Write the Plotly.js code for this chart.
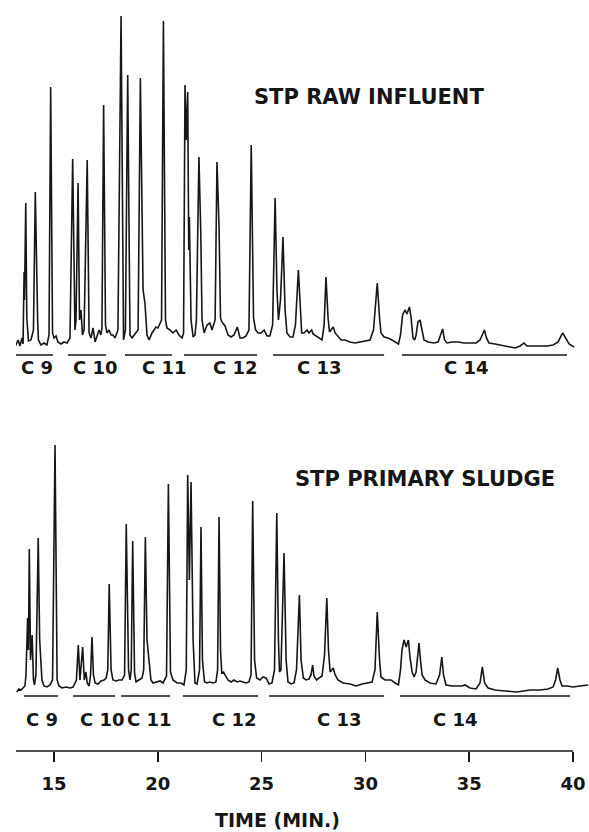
<!DOCTYPE html>
<html>
<head>
<meta charset="utf-8">
<script src="https://cdn.plot.ly/plotly-3.0.1.min.js"></script>
<style>html,body{margin:0;padding:0;background:#fff;}#chart{width:589px;height:832px;}</style>
</head>
<body>
<div id="chart"></div>
<script>
// Retention time (min) and detector response (relative units)
var influentTime = [13.12,13.27,13.36,13.46,13.51,13.56,13.58,13.64,13.69,13.72,13.77,13.89,14.01,14.10,14.17,14.21,14.25,14.37,14.52,14.66,14.76,14.84,14.93,15.00,15.10,15.19,15.34,15.48,15.63,15.77,15.90,16.01,16.06,16.16,16.23,16.30,16.37,16.45,16.60,16.69,16.78,16.88,16.98,17.07,17.17,17.26,17.31,17.39,17.48,17.55,17.65,17.75,17.84,17.94,18.08,18.23,18.35,18.44,18.55,18.66,18.76,18.90,19.05,19.16,19.29,19.38,19.48,19.58,19.72,19.82,19.91,20.01,20.11,20.18,20.27,20.37,20.44,20.59,20.73,20.88,21.02,21.17,21.24,21.31,21.37,21.44,21.49,21.52,21.60,21.70,21.79,21.86,21.98,22.07,22.13,22.23,22.37,22.51,22.61,22.68,22.76,22.85,22.95,23.02,23.09,23.24,23.38,23.53,23.67,23.83,23.96,24.10,24.25,24.39,24.50,24.61,24.71,24.83,24.97,25.12,25.26,25.40,25.53,25.65,25.74,25.81,25.91,26.03,26.13,26.22,26.37,26.51,26.63,26.77,26.87,26.93,27.04,27.19,27.28,27.41,27.48,27.62,27.77,27.91,28.01,28.10,28.20,28.27,28.34,28.45,28.54,28.68,28.83,29.02,29.26,29.50,29.74,29.98,30.22,30.39,30.57,30.68,30.75,30.90,31.09,31.28,31.43,31.59,31.69,31.79,31.91,32.00,32.12,32.20,32.29,32.37,32.44,32.53,32.63,32.73,32.82,33.02,33.30,33.50,33.62,33.72,33.81,33.93,34.17,34.46,34.75,35.04,35.33,35.52,35.62,35.73,35.83,35.95,36.24,36.63,36.97,37.21,37.45,37.64,37.78,38.07,38.41,38.75,39.04,39.28,39.40,39.50,39.64,39.81,40.05];
var influentSignal = [3,10,4,12,6,78,50,147,32,22,9,10,20,158,40,32,10,5,7,5,15,263,17,12,14,8,6,8,7,12,191,20,30,167,30,40,15,20,190,17,12,22,8,15,20,15,22,245,25,17,20,15,15,12,20,334,10,20,275,15,12,16,20,272,60,47,15,10,17,20,23,22,28,30,329,30,22,20,17,20,15,12,17,265,210,258,100,133,30,13,15,30,193,117,30,17,25,27,20,24,30,188,123,32,28,24,15,13,15,23,12,12,14,20,205,32,20,17,17,20,14,14,25,152,60,30,50,113,40,17,13,13,25,80,30,17,17,20,17,20,16,14,12,10,25,73,32,18,20,23,17,14,10,10,8,7,8,9,10,20,67,32,17,13,12,10,8,6,15,35,40,36,43,32,12,10,15,28,30,20,10,8,7,8,15,21,10,7,8,8,7,7,7,10,15,20,12,7,6,4,3,2,4,7,4,4,4,4,5,8,13,17,12,6,3];

var sludgeTime = [13.20,13.31,13.41,13.51,13.60,13.65,13.73,13.77,13.81,13.87,13.95,14.01,14.06,14.13,14.24,14.31,14.36,14.42,14.52,14.66,14.81,14.93,15.05,15.15,15.24,15.39,15.58,15.77,15.92,16.08,16.17,16.25,16.38,16.46,16.54,16.60,16.69,16.76,16.83,16.90,16.98,17.12,17.26,17.41,17.51,17.59,17.66,17.75,17.84,17.99,18.13,18.28,18.40,18.48,18.59,18.66,18.72,18.79,18.88,18.95,19.09,19.24,19.32,19.40,19.48,19.59,19.67,19.77,19.91,20.11,20.25,20.42,20.51,20.61,20.73,20.93,21.12,21.26,21.37,21.44,21.52,21.60,21.70,21.79,21.89,22.01,22.08,22.15,22.25,22.37,22.51,22.66,22.80,22.88,22.95,23.02,23.08,23.17,23.24,23.38,23.53,23.67,23.82,23.96,24.10,24.25,24.39,24.49,24.57,24.66,24.76,24.92,25.07,25.21,25.36,25.50,25.62,25.73,25.81,25.86,25.93,26.01,26.08,26.18,26.27,26.42,26.56,26.68,26.82,26.90,27.01,27.14,27.28,27.38,27.46,27.52,27.65,27.77,27.91,28.03,28.14,28.22,28.30,28.45,28.54,28.68,28.92,29.26,29.55,29.84,30.13,30.32,30.46,30.57,30.68,30.75,30.94,31.23,31.43,31.59,31.69,31.76,31.86,31.96,32.07,32.15,32.25,32.34,32.44,32.51,32.58,32.65,32.73,32.87,33.11,33.40,33.57,33.68,33.76,33.88,34.17,34.46,34.65,34.80,35.04,35.33,35.52,35.63,35.74,35.91,36.24,36.73,37.29,37.93,38.41,38.80,39.04,39.16,39.26,39.37,39.47,39.71,40.00,40.34,40.72];
var sludgeSignal = [3,6,5,7,9,20,77,45,146,35,60,15,10,20,157,55,38,15,9,8,10,15,250,15,9,7,8,7,8,15,50,15,48,15,23,12,9,20,58,20,12,11,14,15,17,25,111,25,15,14,15,15,20,171,25,15,25,154,22,13,15,17,25,158,55,35,15,12,13,14,12,19,211,23,15,12,12,10,25,220,115,213,55,12,11,25,168,35,13,12,13,12,13,25,178,45,22,23,20,15,13,15,13,14,13,12,13,20,194,35,17,15,18,17,11,12,25,182,55,23,25,95,142,35,13,11,12,25,100,35,17,15,16,20,30,19,15,17,19,40,97,45,23,27,20,15,12,11,9,11,12,13,25,83,35,18,15,15,12,10,25,45,55,48,55,37,23,18,23,35,52,35,20,15,12,11,20,38,20,10,9,9,9,10,7,6,12,28,12,7,5,4,3,5,5,6,8,15,27,15,9,9,8,9,10];

var groupNames = ["C 9","C 10","C 11","C 12","C 13","C 14"];
var influentGroupStart = [13.17,15.67,18.42,21.26,25.55,31.76];
var influentGroupEnd   = [14.95,17.51,20.68,24.78,30.90,39.71];
var influentLabelAt    = [14.18,16.98,20.30,23.72,27.77,34.85];
var sludgeGroupStart   = [13.56,15.92,18.23,21.21,25.36,31.67];
var sludgeGroupEnd     = [15.19,17.94,20.59,24.83,30.90,39.86];
var sludgeLabelAt      = [14.42,17.36,19.62,23.67,28.73,34.32];
var tickValues = [15,20,25,30,35,40];

var FONT = "DejaVu Sans, Liberation Sans, Arial, sans-serif";
var INK = "#161616";

var traces = [
  {x: influentTime, y: influentSignal, type: "scatter", mode: "lines", xaxis: "x", yaxis: "y",
   line: {color: INK, width: 1.6}, name: "STP RAW INFLUENT", hoverinfo: "x+y"},
  {x: sludgeTime, y: sludgeSignal, type: "scatter", mode: "lines", xaxis: "x", yaxis: "y2",
   line: {color: INK, width: 1.6}, name: "STP PRIMARY SLUDGE", hoverinfo: "x+y"}
];

var shapes = [];
var annotations = [];
function addGroups(starts, ends, labels, lineY, labelY) {
  for (var i = 0; i < groupNames.length; i++) {
    shapes.push({type: "line", xref: "x", yref: "paper", x0: starts[i], x1: ends[i], y0: lineY, y1: lineY,
                 line: {color: INK, width: 1.6}});
    annotations.push({text: groupNames[i], xref: "x", yref: "paper", x: labels[i], y: labelY,
                      showarrow: false, xanchor: "center", yanchor: "middle",
                      font: {family: FONT, size: 18, color: INK, weight: 700}});
  }
}
addGroups(influentGroupStart, influentGroupEnd, influentLabelAt, 0.5273, 0.510);
addGroups(sludgeGroupStart, sludgeGroupEnd, sludgeLabelAt, 0.0732, 0.0413);

// x axis baseline from the start of the record to 40 min
shapes.push({type: "line", xref: "x", yref: "paper", x0: 13.17, x1: 40, y0: 0, y1: 0,
             line: {color: INK, width: 1.6}});

annotations.push({text: "STP RAW INFLUENT", xref: "paper", yref: "paper", x: 0.6163, y: 0.8702,
                  showarrow: false, xanchor: "center", yanchor: "middle",
                  font: {family: FONT, size: 21, color: INK, weight: 700}});
annotations.push({text: "STP PRIMARY SLUDGE", xref: "paper", yref: "paper", x: 0.7145, y: 0.3628,
                  showarrow: false, xanchor: "center", yanchor: "middle",
                  font: {family: FONT, size: 21, color: INK, weight: 700}});
annotations.push({text: "TIME (MIN.)", xref: "paper", yref: "paper", x: 0.458, y: -0.0915,
                  showarrow: false, xanchor: "center", yanchor: "middle",
                  font: {family: FONT, size: 19, color: INK, weight: 700}});

var layout = {
  width: 589, height: 832,
  margin: {l: 16, r: 1, t: 0, b: 81},
  paper_bgcolor: "#ffffff", plot_bgcolor: "#ffffff",
  showlegend: false,
  xaxis: {range: [13.17, 40.72], anchor: "free", position: 0,
          showline: false, showgrid: false, zeroline: false,
          tickmode: "array", tickvals: tickValues, ticktext: tickValues.map(String),
          ticks: "outside", ticklen: 10, tickwidth: 1.5, tickcolor: INK,
          ticklabelstandoff: 6,
          tickfont: {family: FONT, size: 18, color: INK, weight: 700}},
  yaxis: {domain: [0.534, 1], range: [0, 350], visible: false, fixedrange: true},
  yaxis2: {domain: [0.0746, 0.4407], range: [0, 275], visible: false, fixedrange: true},
  shapes: shapes,
  annotations: annotations
};

Plotly.newPlot("chart", traces, layout, {displayModeBar: false, staticPlot: true});
</script>
</body>
</html>
